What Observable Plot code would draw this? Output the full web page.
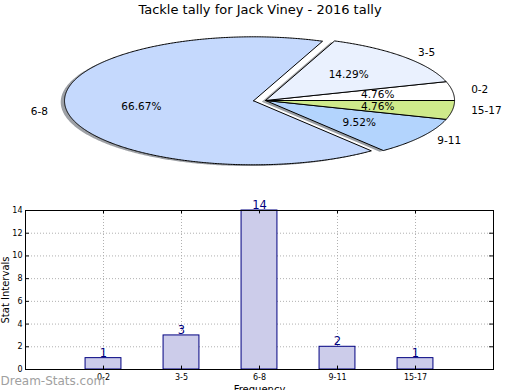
<!DOCTYPE html>
<html><head><meta charset="utf-8">
<script src="https://cdn.jsdelivr.net/npm/d3@7"></script>
<script src="https://cdn.jsdelivr.net/npm/@observablehq/plot@0.6"></script>
<style>
body{margin:0;background:#fff;font-family:"DejaVu Sans",sans-serif}
#c{position:relative;width:520px;height:390px;overflow:hidden;background:#fff}
#title{position:absolute;top:2px;left:0;width:520px;text-align:center;font-size:13px;line-height:16px;color:#000}
#pie{position:absolute;top:20px;left:0}
#bar{position:absolute;top:190px;left:0}
</style></head>
<body><div id="c"><div id="title">Tackle tally for Jack Viney - 2016 tally</div><div id="pie"></div><div id="bar"></div></div>
<script>
const categories = ["0-2", "3-5", "6-8", "9-11", "15-17"];
const counts = [1, 3, 14, 2, 1];
const sliceColors = ["#ffffff", "#eaf1fe", "#c5d9fd", "#b3d4fd", "#cfea8b"];
const yTicks = [0, 2, 4, 6, 8, 10, 12, 14];

const FONT = "DejaVu Sans";
const total = d3.sum(counts);
const rad = Math.PI / 180;

// ---- pie geometry (unit ellipse in data space, squashed by scales) ----
const bigIndex = counts.indexOf(d3.max(counts));
let acc = 0;
const slices = counts.map((v, i) => {
  const a0 = acc / total * 360;
  acc += v;
  const a1 = acc / total * 360;
  const mid = (a0 + a1) / 2;
  const ex = 0.032;
  const cx = i === bigIndex ? ex * Math.cos(mid * rad) : ex;
  const cy = i === bigIndex ? ex * Math.sin(mid * rad) : 0;
  return {i, cat: categories[i], v, a0, a1, mid, cx, cy};
});
function poly(s, ox, oy) {
  const pts = [{x: s.cx + ox, y: s.cy + oy}];
  const n = Math.max(2, Math.ceil((s.a1 - s.a0) / 0.5));
  for (let k = 0; k <= n; k++) {
    const a = (s.a0 + (s.a1 - s.a0) * k / n) * rad;
    pts.push({x: s.cx + ox + Math.cos(a), y: s.cy + oy + Math.sin(a)});
  }
  pts.push({x: s.cx + ox, y: s.cy + oy});
  return pts;
}
function shade(c) {
  const r = d3.rgb(c);
  return d3.rgb(r.r * 0.3, r.g * 0.3, r.b * 0.3).formatHex();
}
const labelRows = slices.map(s => ({
  x: s.cx + 1.1 * Math.cos(s.mid * rad),
  y: s.cy + 1.1 * Math.sin(s.mid * rad),
  text: s.cat, right: Math.cos(s.mid * rad) >= 0
}));
const pctRows = slices.map(s => ({
  x: s.cx + 0.6 * Math.cos(s.mid * rad),
  y: s.cy + 0.6 * Math.sin(s.mid * rad),
  text: (s.v / total * 100).toFixed(2) + "%"
}));

const pie = Plot.plot({
  width: 520, height: 170,
  marginTop: 0, marginBottom: 0, marginLeft: 0, marginRight: 0,
  x: {domain: [-1, 1], range: [70, 448], axis: null},
  y: {domain: [-1, 1], range: [144, 16], axis: null},
  style: {fontFamily: FONT, background: "transparent", overflow: "visible"},
  marks: [
    ...slices.map(s => Plot.line(poly(s, -0.02, -0.02), {x: "x", y: "y", fill: shade(sliceColors[s.i]), fillOpacity: 0.5, stroke: "none"})),
    ...slices.map(s => Plot.line(poly(s, 0, 0), {x: "x", y: "y", fill: sliceColors[s.i], stroke: "#000", strokeWidth: 1, strokeLinejoin: "miter"})),
    Plot.text(labelRows.filter(d => d.right), {x: "x", y: "y", text: "text", textAnchor: "start", fontSize: 10.5, fill: "#000"}),
    Plot.text(labelRows.filter(d => !d.right), {x: "x", y: "y", text: "text", textAnchor: "end", fontSize: 10.5, fill: "#000"}),
    Plot.text(pctRows, {x: "x", y: "y", text: "text", textAnchor: "middle", fontSize: 10.5, fill: "#000"})
  ]
});
document.getElementById("pie").append(pie);

// ---- bar chart ----
const barData = categories.map((c, i) => ({cat: c, pos: i + 1, value: counts[i]}));
const positions = barData.map(d => d.pos);
const half = 0.23;

const bar = Plot.plot({
  width: 520, height: 200,
  marginTop: 20, marginBottom: 21, marginLeft: 25, marginRight: 27,
  style: {fontFamily: FONT, fontSize: "8px", background: "transparent", overflow: "visible", color: "#000"},
  x: {domain: [0, 6], ticks: positions, tickFormat: p => categories[p - 1], tickSize: 0, tickPadding: 5, label: null},
  y: {domain: [0, 14], ticks: yTicks, tickSize: 0, tickPadding: 3, label: null},
  marks: [
    Plot.ruleX(positions, {stroke: "#b0b0b0", strokeDasharray: "1,2"}),
    Plot.ruleY(yTicks, {stroke: "#b0b0b0", strokeDasharray: "1,2"}),
    Plot.rect(barData, {x1: d => d.pos - half, x2: d => d.pos + half, y1: 0, y2: "value", fill: "#ccccea", stroke: "#000080", strokeWidth: 1}),
    Plot.text(barData, {x: "pos", y: "value", text: d => String(d.value), fill: "#000080", fontSize: 11.5, dy: -5}),
    Plot.ruleY(yTicks, {x1: 0, x2: 0.05, stroke: "#000"}),
    Plot.ruleY(yTicks, {x1: 5.95, x2: 6, stroke: "#000"}),
    Plot.ruleX(positions, {y1: 0, y2: 0.3, stroke: "#000"}),
    Plot.ruleX(positions, {y1: 13.7, y2: 14, stroke: "#000"}),
    Plot.frame({stroke: "#000", strokeWidth: 1}),
    Plot.text(["Stat Intervals"], {frameAnchor: "left", rotate: -90, dx: -20, fontSize: 10, fill: "#000", textAnchor: "middle"}),
    Plot.text(["Frequency"], {frameAnchor: "bottom", dy: 23, fontSize: 10, fill: "#000", textAnchor: "middle"}),
    Plot.text(["Dream-Stats.com"], {frameAnchor: "bottom-left", dx: -25, dy: 15, textAnchor: "start", fontSize: 12, fill: "#a0a0a0"})
  ]
});
document.getElementById("bar").append(bar);
</script>
</body></html>
